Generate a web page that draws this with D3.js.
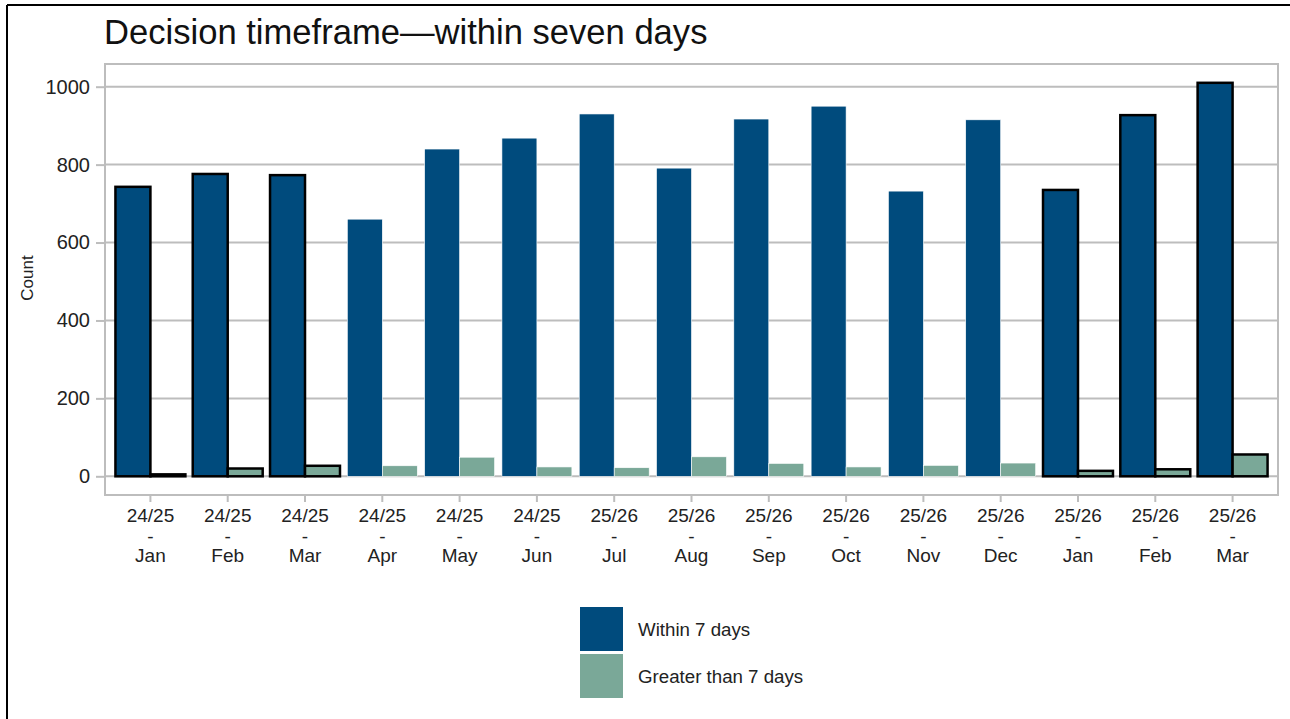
<!DOCTYPE html>
<html>
<head>
<meta charset="utf-8">
<script src="https://cdn.jsdelivr.net/npm/d3@7"></script>
<style>
  body { margin: 0; background: white; }
  svg { display: block; font-family: "Liberation Sans", Arial, sans-serif; }
</style>
</head>
<body>
<svg id="chart"></svg>
<script>
var years = ["24/25","24/25","24/25","24/25","24/25","24/25","25/26","25/26","25/26","25/26","25/26","25/26","25/26","25/26","25/26"];
var months = ["Jan","Feb","Mar","Apr","May","Jun","Jul","Aug","Sep","Oct","Nov","Dec","Jan","Feb","Mar"];
var within7 = [743, 776, 773, 660, 840, 868, 930, 791, 917, 950, 732, 915, 735, 927, 1010];
var over7 = [5, 20, 27, 27, 49, 24, 22, 50, 33, 24, 28, 34, 14, 18, 56];
var seriesNames = ["Within 7 days", "Greater than 7 days"];
var seriesColors = ["#004b7d", "#7aa898"];
var yTicks = [0, 200, 400, 600, 800, 1000];
var outlinedMonths = ["Jan", "Feb", "Mar"];

var W = 1290, H = 719;
var svg = d3.select("#chart").attr("width", W).attr("height", H);

svg.append("rect").attr("width", W).attr("height", H).attr("fill", "white");

// frame (left + top edge of the screenshot)
svg.append("line").attr("x1", 7).attr("y1", 5).attr("x2", 7).attr("y2", H)
  .attr("stroke", "black").attr("stroke-width", 2);
svg.append("line").attr("x1", 7).attr("y1", 5).attr("x2", W).attr("y2", 5)
  .attr("stroke", "black").attr("stroke-width", 2);

// title
svg.append("text").attr("x", 104).attr("y", 44)
  .attr("font-size", "34.6px").attr("fill", "#111")
  .text("Decision timeframe\u2014within seven days");

var panel = { left: 105, right: 1278, top: 64, bottom: 495 };

var y = d3.scaleLinear().domain([0, 1000]).range([476.3, 86.7]);
var idx = months.map(function (m, i) { return i; });
var x0 = d3.scaleBand().domain(idx).range([panel.left, panel.right])
  .paddingInner(0.095).paddingOuter(0.135);
var x1 = d3.scaleBand().domain([0, 1]).range([0, x0.bandwidth()]);

var gridColor = "#bdbdbd";

// gridlines
svg.append("g").selectAll("line").data(yTicks).enter().append("line")
  .attr("x1", panel.left).attr("x2", panel.right)
  .attr("y1", function (d) { return y(d); })
  .attr("y2", function (d) { return y(d); })
  .attr("stroke", gridColor).attr("stroke-width", 2);

// panel border
svg.append("rect")
  .attr("x", panel.left).attr("y", panel.top)
  .attr("width", panel.right - panel.left).attr("height", panel.bottom - panel.top)
  .attr("fill", "none").attr("stroke", gridColor).attr("stroke-width", 2);

// y axis
var yAxis = svg.append("g").attr("transform", "translate(" + panel.left + ",0)")
  .call(d3.axisLeft(y).tickValues(yTicks).tickSize(9).tickPadding(6).tickFormat(d3.format("d")));
yAxis.select(".domain").remove();
yAxis.selectAll(".tick line").attr("stroke", gridColor).attr("stroke-width", 2);
yAxis.selectAll(".tick text").attr("font-size", "20px").attr("fill", "#222")
  .attr("font-family", "Liberation Sans, Arial, sans-serif");

svg.append("text")
  .attr("transform", "translate(33,278) rotate(-90)")
  .attr("text-anchor", "middle").attr("font-size", "17px").attr("fill", "#222")
  .text("Count");

// x axis ticks and labels
var xg = svg.append("g").selectAll("g").data(idx).enter().append("g")
  .attr("transform", function (i) { return "translate(" + (x0(i) + x0.bandwidth() / 2) + ",0)"; });
xg.append("line").attr("y1", panel.bottom).attr("y2", panel.bottom + 7)
  .attr("stroke", gridColor).attr("stroke-width", 2);
var lab = xg.append("text").attr("text-anchor", "middle").attr("font-size", "19px").attr("fill", "#222");
lab.append("tspan").attr("x", 0).attr("y", 522).text(function (i) { return years[i]; });
lab.append("tspan").attr("x", 0).attr("y", 543).text("-");
lab.append("tspan").attr("x", 0).attr("y", 562).text(function (i) { return months[i]; });

// bars
var rows = [];
idx.forEach(function (i) {
  [within7[i], over7[i]].forEach(function (v, s) {
    rows.push({ i: i, s: s, v: v, outline: outlinedMonths.indexOf(months[i]) >= 0 });
  });
});

svg.append("g").selectAll("rect").data(rows).enter().append("rect")
  .attr("x", function (d) { return x0(d.i) + x1(d.s); })
  .attr("width", x1.bandwidth())
  .attr("y", function (d) { return y(d.v); })
  .attr("height", function (d) { return y(0) - y(d.v); })
  .attr("fill", function (d) { return seriesColors[d.s]; })
  .attr("stroke", function (d) { return d.outline ? "black" : "white"; })
  .attr("stroke-width", function (d) { return d.outline ? 2.5 : 0.6; });

// legend
var lg = svg.append("g").selectAll("g").data(seriesNames).enter().append("g")
  .attr("transform", function (d, s) { return "translate(580," + (607 + s * 47) + ")"; });
lg.append("rect").attr("width", 43).attr("height", 44)
  .attr("fill", function (d, s) { return seriesColors[s]; });
lg.append("text").attr("x", 58).attr("y", 29)
  .attr("font-size", "18.7px").attr("fill", "#222")
  .text(function (d) { return d; });
</script>
</body>
</html>
